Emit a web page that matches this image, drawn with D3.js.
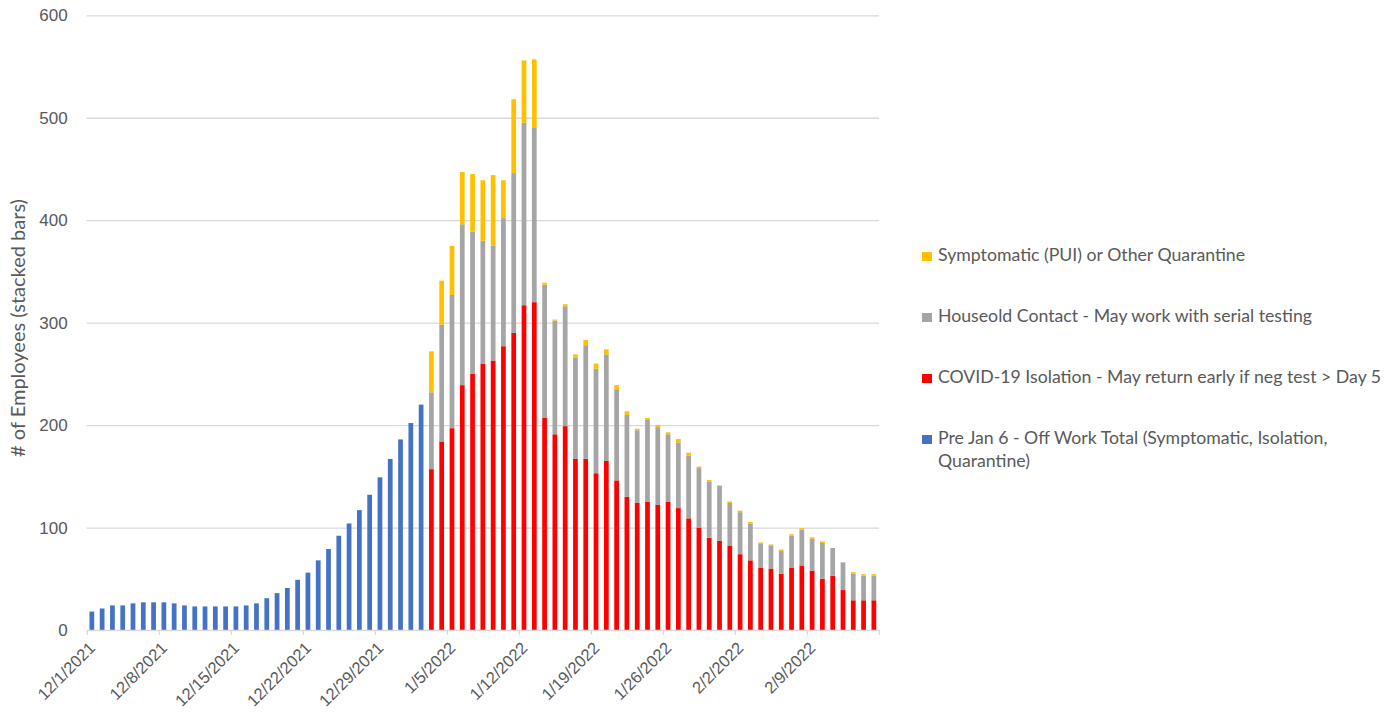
<!DOCTYPE html>
<head>
<meta charset="utf-8">
<title>Employees Off Work</title>
<style>
   body {
		   margin: 0;
		   background: #fff;
		   font-family: Lato, "Open Sans", sans-serif;
   }

   .grid line {
		   stroke: #d9d9d9;
		   stroke-width: 1.3px;
   }

   .grid .domain { display: none; }

   .ylab text {
		   fill: #595959;
		   font-size: 17px;
   }

   .xaxis text {
		   fill: #595959;
		   font-size: 16.5px;
   }

   .xaxis line, .xaxis .domain {
		   stroke: #d9d9d9;
		   stroke-width: 1.3px;
   }

   .legend text, .title {
		   fill: #595959;
		   font-size: 17.7px;
   }
</style>
</head>
<body>

<div id="chartDiv"></div>

<script src="https://d3js.org/d3.v7.min.js"></script>
<script>

   // Data

   var firstDay = "12/1/2021";
   var lastDay = "2/15/2022";
   var tickLabels = ["12/1/2021", "12/8/2021", "12/15/2021", "12/22/2021", "12/29/2021",
		   "1/5/2022", "1/12/2022", "1/19/2022", "1/26/2022", "2/2/2022", "2/9/2022"];
   var yTicks = [0, 100, 200, 300, 400, 500, 600];

   // 12/1/2021 - 1/2/2022
   var preJan6 = [18, 21, 24, 24, 26, 27, 27, 27, 26, 24, 23, 23, 23, 23, 23, 24, 26,
		   31, 36, 41, 49, 56, 68, 79, 92, 104, 117, 132, 149, 167, 186, 202, 220];

   // 1/3/2022 - 2/15/2022
   var isolation = [157, 184, 197, 239, 250, 260, 263, 277, 290, 317, 320, 207, 191, 199,
		   167, 167, 153, 165, 146, 130, 124, 125, 122, 125, 119, 109, 100, 90, 87, 82,
		   74, 68, 61, 60, 55, 61, 63, 58, 50, 53, 39, 29, 29, 29];
   var household = [75, 114, 130, 157, 139, 120, 112, 125, 156, 178, 170, 130, 111, 117,
		   99, 111, 102, 104, 89, 80, 71, 80, 76, 66, 64, 61, 58, 55, 54, 42,
		   41, 36, 23, 22, 22, 31, 35, 31, 35, 27, 27, 26, 24, 24];
   var symptomatic = [40, 43, 48, 51, 56, 59, 69, 37, 72, 61, 67, 2, 1, 2,
		   3, 5, 5, 5, 4, 3.5, 1.5, 2, 2, 2, 3.5, 3, 1.5, 1.5, 0, 1.5,
		   1.5, 1.5, 1.5, 1.5, 1.5, 1.5, 1.5, 1.5, 1.5, 0, 0, 1.5, 1.5, 1.5];

   var keys = ["pre", "iso", "house", "symp"];
   var colors = {pre: "#4472C4", iso: "#FF0000", house: "#A5A5A5", symp: "#FFC000"};
   var legendItems = [
		   {key: "symp", lines: ["Symptomatic (PUI) or Other Quarantine"]},
		   {key: "house", lines: ["Houseold Contact - May work with serial testing"]},
		   {key: "iso", lines: ["COVID-19 Isolation - May return early if neg test > Day 5"]},
		   {key: "pre", lines: ["Pre Jan 6 - Off Work Total (Symptomatic, Isolation,", "Quarantine)"]}
   ];

   var parse = d3.timeParse("%m/%d/%Y");
   var start = parse(firstDay);
   var stop = d3.timeDay.offset(parse(lastDay), 1);
   var dates = d3.timeDay.range(start, stop);

   var rows = dates.map(function(d, i) {
	   var j = i - preJan6.length;
	   return {
		   date: d,
		   pre: i < preJan6.length ? preJan6[i] : 0,
		   iso: j >= 0 ? isolation[j] : 0,
		   house: j >= 0 ? household[j] : 0,
		   symp: j >= 0 ? symptomatic[j] : 0
	   };
   });

   // Chart

   var width = 1386, height = 712;
   var plotLeft = 86.7, plotRight = 879, plotTop = 15.3, plotBottom = 630;

   var svg = d3.select("#chartDiv")
	 .append("svg")
	   .attr("width", width)
	   .attr("height", height);

   var x = d3.scaleBand()
	   .domain(dates)
	   .range([plotLeft, plotRight])
	   .paddingInner(0.54)
	   .paddingOuter(0.27);

   var xTime = d3.scaleTime()
	   .domain([start, stop])
	   .range([plotLeft, plotRight]);

   var y = d3.scaleLinear()
	   .domain([0, 600])
	   .range([plotBottom, plotTop]);

   // gridlines
   svg.append("g")
	   .attr("class", "grid")
	   .attr("transform", "translate(" + plotLeft + ",0)")
	   .call(d3.axisLeft(y).tickValues(yTicks.slice(1)).tickSize(-(plotRight - plotLeft)).tickFormat(""));

   svg.append("g")
	   .attr("class", "ylab")
	   .attr("transform", "translate(" + plotLeft + ",0)")
	   .call(d3.axisLeft(y).tickValues(yTicks).tickSize(0).tickPadding(19))
	   .call(function(g) { g.select(".domain").remove(); });

   // bars
   var series = d3.stack().keys(keys)(rows);

   svg.append("g")
	 .selectAll("g")
	   .data(series)
	   .enter().append("g")
	   .attr("fill", function(s) { return colors[s.key]; })
	 .selectAll("rect")
	   .data(function(s) { return s.filter(function(d) { return d[1] > d[0]; }); })
	   .enter().append("rect")
	   .attr("x", function(d) { return x(d.data.date); })
	   .attr("width", x.bandwidth())
	   .attr("y", function(d) { return y(d[1]); })
	   .attr("height", function(d) { return y(d[0]) - y(d[1]); });

   // x axis
   var tickDates = tickLabels.map(parse).concat([stop]);
   var xAxis = svg.append("g")
	   .attr("class", "xaxis")
	   .attr("transform", "translate(0," + plotBottom + ")")
	   .call(d3.axisBottom(xTime)
		   .tickValues(tickDates)
		   .tickSize(5)
		   .tickSizeOuter(0)
		   .tickFormat(function(d, i) { return i < tickLabels.length ? tickLabels[i] : ""; }));

   xAxis.selectAll("text")
	   .attr("text-anchor", "end")
	   .attr("transform", "translate(5,15) rotate(-45)")
	   .attr("x", 0)
	   .attr("y", 0)
	   .attr("dy", "0.35em");

   // y title
   svg.append("text")
	   .attr("class", "title")
	   .attr("transform", "translate(25,328) rotate(-90)")
	   .attr("text-anchor", "middle")
	   .style("font-size", "20px")
	   .text("# of Employees (stacked bars)");

   // legend
   var legend = svg.append("g")
	   .attr("class", "legend")
	 .selectAll("g")
	   .data(legendItems)
	   .enter().append("g")
	   .attr("transform", function(d, i) { return "translate(922," + (255 + i * 61) + ")"; });

   legend.append("rect")
	   .attr("x", 0)
	   .attr("y", -3)
	   .attr("width", 10)
	   .attr("height", 9)
	   .attr("fill", function(d) { return colors[d.key]; });

   legend.append("text")
	 .selectAll("tspan")
	   .data(function(d) { return d.lines; })
	   .enter().append("tspan")
	   .attr("x", 16)
	   .attr("y", function(d, i) { return i * 23; })
	   .attr("dy", "0.35em")
	   .text(function(d) { return d; });

</script>
</body>
